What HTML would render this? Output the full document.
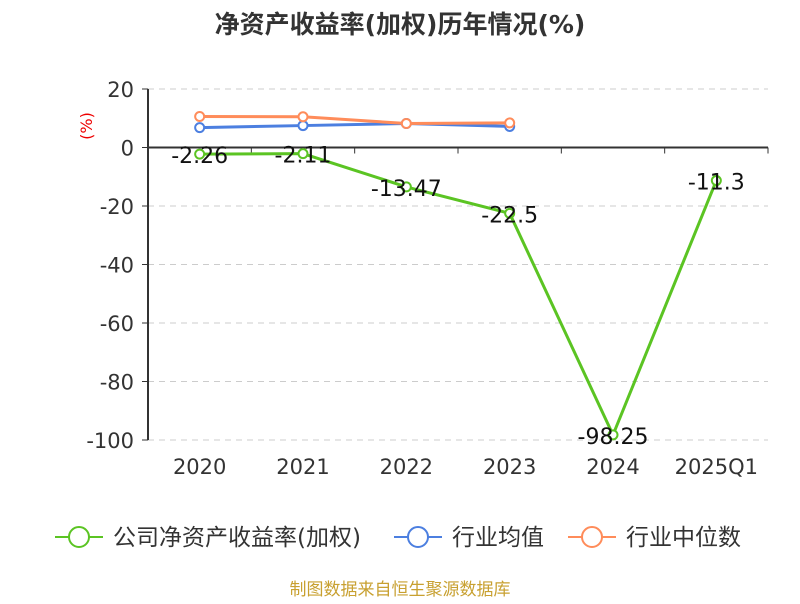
<!DOCTYPE html>
<html><head><meta charset="utf-8"><style>
body{margin:0;background:#fff;font-family:"DejaVu Sans","Noto Sans CJK SC",sans-serif;}
svg text{font-family:"DejaVu Sans","Noto Sans CJK SC",sans-serif;}
</style></head><body>
<svg id="chart" width="800" height="600" xmlns="http://www.w3.org/2000/svg">
<text x="400" y="33" text-anchor="middle" font-size="25" font-weight="bold" fill="#333">净资产收益率(加权)历年情况(%)</text>
<text x="92" y="126" text-anchor="middle" font-size="16" fill="#e00" transform="rotate(-90 92 126)">(%)</text>
<g id="grid"></g><g id="axes"></g><g id="series"></g>
<g>
<g><line x1="55" y1="537" x2="103" y2="537" stroke="#5bc423" stroke-width="2"/><circle cx="79" cy="537" r="10" fill="#fff" stroke="#5bc423" stroke-width="2"/><text x="113" y="545" font-size="23" fill="#333">公司净资产收益率(加权)</text></g>
<g><line x1="394" y1="537" x2="442" y2="537" stroke="#4c7fe0" stroke-width="2"/><circle cx="418" cy="537" r="10" fill="#fff" stroke="#4c7fe0" stroke-width="2"/><text x="452" y="545" font-size="23" fill="#333">行业均值</text></g>
<g><line x1="568" y1="537" x2="616" y2="537" stroke="#ff8c5a" stroke-width="2"/><circle cx="592" cy="537" r="10" fill="#fff" stroke="#ff8c5a" stroke-width="2"/><text x="626" y="545" font-size="23" fill="#333">行业中位数</text></g>
</g>
<text x="400" y="595" text-anchor="middle" font-size="17" fill="#c8a030">制图数据来自恒生聚源数据库</text>
</svg>
<script>
const categories=["2020","2021","2022","2023","2024","2025Q1"];
const companyValues=[-2.26,-2.11,-13.47,-22.5,-98.25,-11.3];
const industryAvg=[6.8,7.5,8.2,7.2];
const industryMedian=[10.6,10.5,8.2,8.4];
const yTicks=[20,0,-20,-40,-60,-80,-100];
const NS="http://www.w3.org/2000/svg";
const x0=148,x1=768,yTop=89,yBot=440;
const y=v=>yTop+(20-v)*(yBot-yTop)/120;
const bw=(x1-x0)/categories.length;
const x=i=>x0+bw*(i+0.5);
function mk(t,a,p){const e=document.createElementNS(NS,t);for(const k in a)e.setAttribute(k,a[k]);p.appendChild(e);return e;}
const grid=document.getElementById('grid'),axes=document.getElementById('axes'),ser=document.getElementById('series');
yTicks.forEach(v=>{
 if(v!==0){const g=mk('line',{x1:x0,x2:x1,y1:y(v),y2:y(v),stroke:'#ccc','stroke-dasharray':'6,5'},grid);
 
 }
 const tk=mk('line',{x1:x0-6,x2:x0,y1:y(v),y2:y(v),stroke:'#333'},axes);
 
 
 const t=mk('text',{x:x0-14,y:y(v)+8,'text-anchor':'end','font-size':21,fill:'#333'},axes);t.textContent=v;
 
 
});
const ya=mk('line',{x1:x0,x2:x0,y1:yTop,y2:yBot,stroke:'#333','stroke-width':2},axes);


const xa=mk('line',{x1:x0,x2:x1,y1:y(0),y2:y(0),stroke:'#333','stroke-width':2},axes);


categories.forEach((c,i)=>{
 const tk=mk('line',{x1:x0+bw*(i+1),x2:x0+bw*(i+1),y1:y(0),y2:y(0)+6,stroke:'#333'},axes);
 
 
 const t=mk('text',{x:x(i),y:474,'text-anchor':'middle','font-size':21,fill:'#333'},axes);t.textContent=c;
 
 
});
function series(vals,color,name,labels){
 const g=mk('g',{},ser);
 
 
 const p=mk('polyline',{points:vals.map((v,i)=>x(i)+','+y(v)).join(' '),fill:'none',stroke:color,'stroke-width':3},g);
 
 
 vals.forEach((v,i)=>{
  const c=mk('circle',{cx:x(i),cy:y(v),r:4.5,fill:'#fff',stroke:color,'stroke-width':2},g);
  
  
  if(labels){const t=mk('text',{x:x(i),y:y(v)+9,'text-anchor':'middle','font-size':22,fill:'#111'},g);t.textContent=v;
  
  }
 });
}
series(industryAvg,'#4c7fe0','industry-avg-series',false);
series(industryMedian,'#ff8c5a','industry-median-series',false);
series(companyValues,'#5bc423','company-roe-series',true);
</script>
</body></html>
